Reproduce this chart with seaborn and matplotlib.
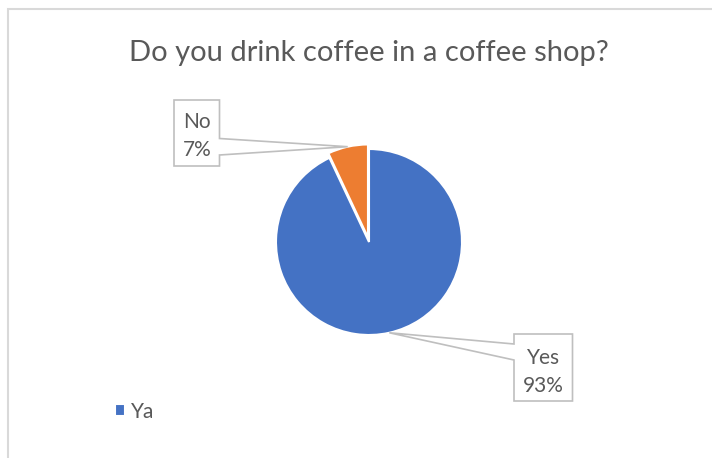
import numpy as np
import matplotlib
matplotlib.use("Agg")
import matplotlib.pyplot as plt
import seaborn as sns
from matplotlib.patches import Polygon, Rectangle

# Survey answers
title = "Do you drink coffee in a coffee shop?"
categories = ["Yes", "No"]
shares = [93, 7]
legend_labels = ["Ya"]

sns.set_theme(style="white")
plt.rcParams["font.family"] = ["Lato", "DejaVu Sans"]
palette = ["#4472C4", "#ED7D31"]
TEXT = "#595959"

W, H = 712, 458
CX, CY, R = 369, 242, 93  # pie centre and radius, in pixels

fig = plt.figure(figsize=(W / 100, H / 100), dpi=100)
ax = fig.add_axes([0, 0, 1, 1])

wedges, _ = ax.pie(
    shares,
    colors=palette,
    startangle=90,
    counterclock=False,
    explode=[0, 0.05],
    radius=1,
    wedgeprops=dict(edgecolor="white", linewidth=1.5),
)
# one data unit == one pie radius == R pixels on both axes
ax.set_xlim(-CX / R, (W - CX) / R)
ax.set_ylim(-(H - CY) / R, CY / R)
ax.set_aspect("auto")
ax.axis("off")


def to_data(px, py):
    return ((px - CX) / R, (CY - py) / R)


def callout(wedge, text, box, side, notch, text_y):
    left, top, right, bottom = box
    n1, n2 = notch
    mid = np.deg2rad((wedge.theta1 + wedge.theta2) / 2)
    cx, cy = wedge.center
    tip = (cx + wedge.r * np.cos(mid), cy + wedge.r * np.sin(mid))
    if side == "right":
        pts = [to_data(left, top), to_data(right, top), to_data(right, n1), tip,
               to_data(right, n2), to_data(right, bottom), to_data(left, bottom)]
    else:
        pts = [to_data(left, top), to_data(right, top), to_data(right, bottom),
               to_data(left, bottom), to_data(left, n2), tip, to_data(left, n1)]
    ax.add_patch(Polygon(pts, closed=True, facecolor="white", edgecolor="#BFBFBF",
                         lw=1.2, joinstyle="miter", zorder=3))
    tx, ty = to_data((left + right) / 2, text_y)
    ax.text(tx, ty, text, ha="center", va="center", fontsize=15, color=TEXT,
            linespacing=1.45, zorder=4)


total = sum(shares)
labels = [f"{c}\n{round(100 * v / total)}%" for c, v in zip(categories, shares)]

callout(wedges[0], labels[0], (514, 334, 572.5, 401), "left", (344, 360), 372)
callout(wedges[1], labels[1], (174, 100, 219.5, 166), "right", (138.5, 155), 136)

fig.text(368.5 / W, 1 - 53 / H, title, ha="center", va="center",
         fontsize=21, color=TEXT)

fig.legend(handles=[wedges[0]], labels=legend_labels, loc="center left",
           bbox_to_anchor=(105 / W, 1 - 411.5 / H), frameon=False, fontsize=15,
           handlelength=0.45, handleheight=0.45, handletextpad=0.3, borderpad=0,
           labelcolor=TEXT)

# chart area border
fig.add_artist(Rectangle((7.5 / W, -0.1), 1.2, (H - 9.5) / H + 0.1,
                         transform=fig.transFigure, fill=False,
                         edgecolor="#D9D9D9", lw=1.5))

fig.savefig("out.png", dpi=100, facecolor="white")
